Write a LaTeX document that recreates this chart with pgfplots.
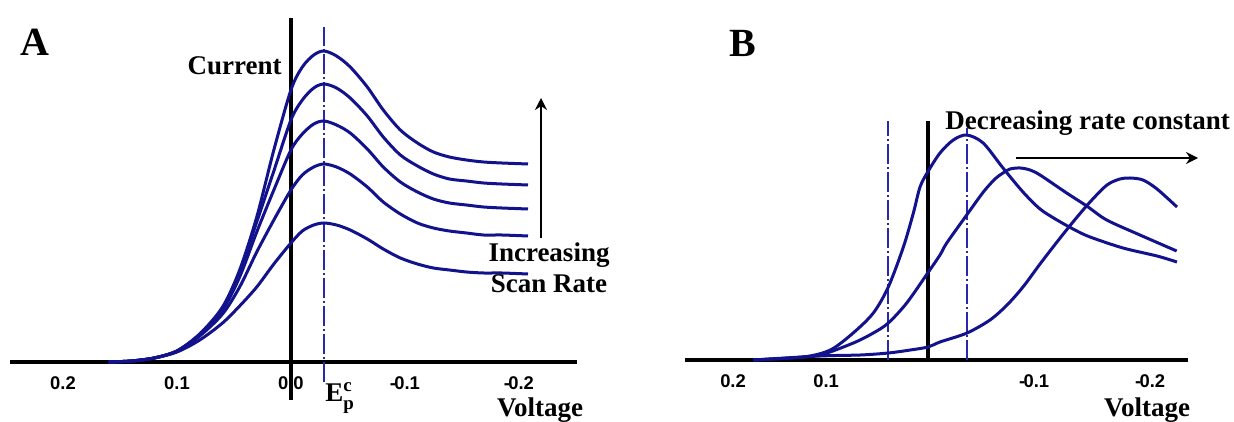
\documentclass[border=0pt]{standalone}
\usepackage{pgfplots}
\pgfplotsset{compat=1.18}
\usepackage{amsmath}
\usepackage{fontspec}
\setmainfont{Liberation Serif}
\newfontfamily\tickfont{Liberation Sans}
\usetikzlibrary{arrows.meta}
\definecolor{cvblue}{RGB}{18,18,140}
\definecolor{guideblue}{RGB}{40,40,175}
\newcommand\lbl{\fontsize{13.5}{15}\selectfont\bfseries}
\newcommand\tkl{\tickfont\fontsize{9.2}{11}\selectfont\bfseries}
\newcommand\m{-\kern-0.8pt}

\pgfplotsset{
  cvpanel/.style={
    scale only axis, clip=false, x dir=reverse,
    axis x line=middle, axis y line=none,
    axis line style={-, line width=1.8pt},
    ytick=\empty, xtick style={draw=none},
    hide obscured x ticks=false,
    xticklabel style={font=\tkl, anchor=base, yshift=-11.5pt},
  },
  cv/.style={cvblue, line width=1.5pt, smooth},
  guide/.style={guideblue, line width=0.6pt, dash pattern=on 10pt off 1.5pt on 1pt off 1.5pt},
}

\begin{document}
\begin{tikzpicture}
% 1 px of the reference = 0.5pt
\path[use as bounding box] (0pt,0pt) rectangle (617pt,211pt);

% ---- panel A: scan rate series
\begin{axis}[cvpanel, at={(5pt,11pt)}, anchor=south west,
  width=283.5pt, height=191pt,
  xmin=-0.251, xmax=0.2465, ymin=-38, ymax=344,
  xtick={0.2,0.1,0,-0.1,-0.2}, xticklabels={0.2,0.1,0.0,\m0.1,\m0.2}]
\addplot[black, line width=1.6pt] coordinates {(0,-38) (0,344)};
\addplot[guide] coordinates {(-0.029,-20) (-0.029,335)};
\addplot[cv] coordinates {(0.16,0) (0.14,1) (0.12,4) (0.10,11) (0.08,28) (0.06,55) (0.045,92) (0.03,145) (0.015,212) (0,272) (-0.01,295) (-0.02,307) (-0.029,311) (-0.04,306) (-0.052,295) (-0.067,275) (-0.081,252) (-0.096,232) (-0.111,219) (-0.125,210) (-0.139,205) (-0.154,202) (-0.169,200) (-0.185,199) (-0.208,198)};
\addplot[cv] coordinates {(0.16,0) (0.14,1) (0.12,4) (0.10,11) (0.08,28) (0.06,54) (0.045,90) (0.03,140) (0.015,191) (0,242) (-0.01,262) (-0.02,274) (-0.029,278) (-0.04,274) (-0.052,264) (-0.067,246) (-0.081,225) (-0.096,207) (-0.111,196) (-0.125,188) (-0.139,183) (-0.154,181) (-0.169,179) (-0.185,178) (-0.208,177)};
\addplot[cv] coordinates {(0.16,0) (0.14,1) (0.12,4) (0.10,11) (0.08,27) (0.06,52) (0.045,85) (0.03,130) (0.015,172) (0,212) (-0.01,228) (-0.02,238) (-0.029,241) (-0.04,237) (-0.052,229) (-0.067,213) (-0.081,195) (-0.096,180) (-0.111,170) (-0.125,163) (-0.139,159) (-0.154,157) (-0.169,155) (-0.185,154) (-0.208,153)};
\addplot[cv] coordinates {(0.16,0) (0.14,1) (0.12,4) (0.10,11) (0.08,26) (0.06,48) (0.045,75) (0.03,110) (0.015,142) (0,172) (-0.01,187) (-0.02,195) (-0.029,198) (-0.04,195) (-0.052,188) (-0.067,175) (-0.081,160) (-0.096,148) (-0.111,139) (-0.125,134) (-0.139,131) (-0.154,129) (-0.169,127) (-0.185,127) (-0.208,126)};
\addplot[cv] coordinates {(0.16,0) (0.14,1) (0.12,4) (0.10,10) (0.08,22) (0.06,39) (0.045,56) (0.03,75) (0.015,98) (0,119) (-0.01,131) (-0.02,137) (-0.029,139) (-0.04,137) (-0.052,132) (-0.067,123) (-0.081,113) (-0.096,104) (-0.111,98) (-0.125,94) (-0.139,92) (-0.154,90) (-0.169,89) (-0.185,89) (-0.208,88)};
\end{axis}

% ---- panel B: rate constant series
\begin{axis}[cvpanel, at={(342.5pt,21pt)}, anchor=south west,
  width=251.5pt, height=135pt,
  xmin=-0.25, xmax=0.2337, ymin=-20, ymax=250,
  xtick={0.1875,0.098,-0.102,-0.2135}, xticklabels={0.2,0.1,\m0.1,\m0.2}]
\addplot[black, line width=1.6pt] coordinates {(0,-2) (0,239)};
\addplot[guide] coordinates {(0.0385,0) (0.0385,239)};
\addplot[guide] coordinates {(-0.0375,0) (-0.0375,232)};
\addplot[cv] coordinates {(0.168,0) (0.12,3) (0.094,10) (0.072,27) (0.0526,47) (0.0382,73) (0.0237,113) (0.0141,147) (0.0077,173) (0.0003,188) (-0.0115,207) (-0.0243,220) (-0.0372,225) (-0.053,217) (-0.0721,192) (-0.0913,168) (-0.1077,151) (-0.124,140) (-0.1413,130) (-0.1558,123) (-0.1875,112) (-0.2202,104) (-0.2394,98)};
\addplot[cv] coordinates {(0.168,0) (0.133,2) (0.1038,5) (0.0718,17) (0.0526,27) (0.0382,37) (0.0205,57) (0.0003,87) (-0.0115,105) (-0.018,117) (-0.0372,145) (-0.0532,168) (-0.0644,181) (-0.0721,187) (-0.0788,191) (-0.0885,192) (-0.0981,190) (-0.1077,185) (-0.1333,167) (-0.1526,154) (-0.1718,140) (-0.2038,125) (-0.2391,109)};
\addplot[cv] coordinates {(0.168,0) (0.1038,4) (0.065,5) (0.0382,7) (0.017,10) (0,13) (-0.0115,18) (-0.0375,27) (-0.0596,40) (-0.076,55) (-0.0913,73) (-0.1077,96) (-0.124,118) (-0.1394,138) (-0.1558,158) (-0.1721,175) (-0.1846,181) (-0.1942,182) (-0.2067,180) (-0.2202,171) (-0.2394,153)};
\end{axis}

% ---- annotations (coordinates in reference pixels, y up)
\begin{scope}[x=0.5pt,y=0.5pt]
\node[font=\fontsize{20}{22}\selectfont\bfseries, anchor=base] at (35,366) {A};
\node[font=\fontsize{20}{22}\selectfont\bfseries, anchor=base] at (743,365) {B};
\node[font=\lbl, anchor=base east, inner sep=0pt] at (282,347) {Current};
\node[font=\lbl, anchor=base, inner sep=0pt] at (540,5) {Voltage};
\node[font=\lbl, anchor=base, inner sep=0pt] at (1147,5) {Voltage};
\node[font=\lbl, anchor=base west, inner sep=0pt] at (325,20) {E$_{\textbf{p}}^{\textbf{c}}$};
\node[font=\lbl, anchor=base, inner sep=0pt] at (549,160) {Increasing};
\node[font=\lbl, anchor=base, inner sep=0pt] at (549,129) {Scan Rate};
\node[font=\lbl, anchor=base west, inner sep=0pt] at (945,292) {Decreasing rate constant};
\draw[line width=1pt, -{Stealth[length=6pt, width=6pt]}] (541,184) -- (541,324);
\draw[line width=1pt, -{Stealth[length=6pt, width=6pt]}] (1016,264) -- (1198,264);
\end{scope}
\end{tikzpicture}
\end{document}
